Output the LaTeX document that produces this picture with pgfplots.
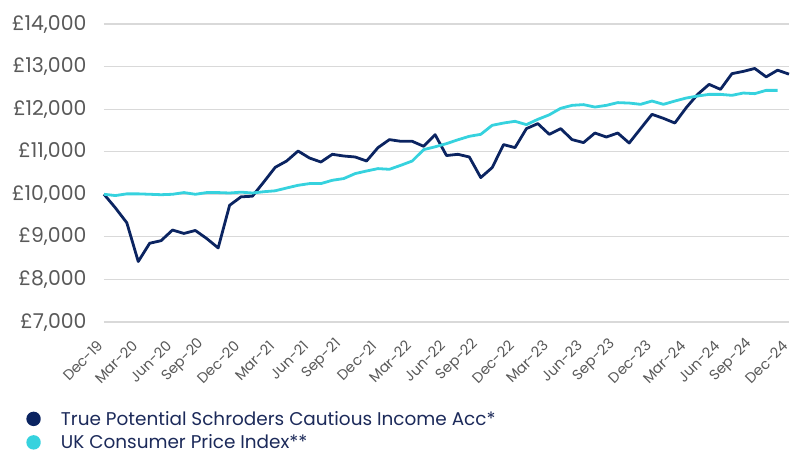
\documentclass[border=0pt]{standalone}
\usepackage{fontspec}
\setmainfont{Poppins}
\usepackage{pgfplots}
\pgfplotsset{compat=1.18}
\definecolor{navy}{HTML}{0B2461}
\definecolor{cyanl}{HTML}{36D2DE}
\definecolor{gridc}{HTML}{D9D9D9}
\definecolor{tickc}{HTML}{595959}
\definecolor{legc}{HTML}{1C2A5A}
\pgfplotstableread{
m v
0 10000
1 9680
2 9330
3 8420
4 8850
5 8910
6 9160
7 9080
8 9150
9 8960
10 8740
11 9740
12 9940
13 9955
14 10290
15 10634
16 10782
17 11016
18 10852
19 10758
20 10939
21 10899
22 10876
23 10782
24 11096
25 11284
26 11244
27 11244
28 11127
29 11401
30 10910
31 10939
32 10876
33 10392
34 10627
35 11167
36 11096
37 11542
38 11660
39 11408
40 11542
41 11284
42 11214
43 11439
44 11345
45 11439
46 11204
47 11542
48 11878
49 11784
50 11674
51 12035
52 12347
53 12582
54 12465
55 12833
56 12887
57 12955
58 12758
59 12915
60 12822
}\fund
\pgfplotstableread{
m v
0 10000
1 9970
2 10010
3 10010
4 10000
5 9990
6 10000
7 10040
8 10000
9 10040
10 10040
11 10030
12 10050
13 10030
14 10060
15 10082
16 10148
17 10211
18 10251
19 10251
20 10329
21 10369
22 10486
23 10547
24 10603
25 10587
26 10681
27 10782
28 11049
29 11115
30 11190
31 11280
32 11362
33 11408
34 11620
35 11674
36 11714
37 11636
38 11760
39 11866
40 12019
41 12089
42 12106
43 12049
44 12089
45 12153
46 12143
47 12113
48 12190
49 12113
50 12190
51 12261
52 12308
53 12347
54 12347
55 12324
56 12378
57 12364
58 12441
59 12441
}\cpi
\begin{document}
\begin{tikzpicture}[x=1bp,y=1bp]
\path[use as bounding box] (-104,-137) rectangle (687,322);
\begin{axis}[at={(0,0)}, anchor=south west, scale only axis,
  width=685bp, height=298bp,
  xmin=0, xmax=60, ymin=7000, ymax=14000, clip=false,
  scaled y ticks=false,
  axis line style={draw=none}, major tick length=0pt,
  ymajorgrids, grid style={gridc, line width=1.2bp},
  ytick={7000,8000,...,14000},
  yticklabels={{£7,000},{£8,000},{£9,000},{£10,000},{£11,000},{£12,000},{£13,000},{£14,000}},
  xtick={0,3,...,60},
  xticklabels={Dec-19,Mar-20,Jun-20,Sep-20,Dec-20,Mar-21,Jun-21,Sep-21,Dec-21,Mar-22,Jun-22,Sep-22,Dec-22,Mar-23,Jun-23,Sep-23,Dec-23,Mar-24,Jun-24,Sep-24,Dec-24},
  yticklabel style={font=\fontsize{20.5}{24}\selectfont, text=tickc, xshift=-14bp},
  xticklabel style={font=\fontsize{14.5}{17}\selectfont, text=tickc, xshift=2bp, yshift=-25bp, rotate=45, anchor=south east, inner sep=1bp},
  legend style={draw=none, fill=none, at={(axis description cs:-0.118,-0.285)}, anchor=north west,
    font=\fontsize{18.5}{22}\selectfont, text=legc, row sep=4bp, legend cell align=left},
  legend image code/.code={\fill (0bp,0bp) circle (5.8bp); \path (24bp,0bp);},
]
\addplot[navy, line width=2.8bp, line join=round] table[x=m,y=v] {\fund};
\addlegendentry{True Potential Schroders Cautious Income Acc*}
\addplot[cyanl, line width=2.8bp, line join=round] table[x=m,y=v] {\cpi};
\addlegendentry{UK Consumer Price Index**}
\end{axis}
\end{tikzpicture}
\end{document}
